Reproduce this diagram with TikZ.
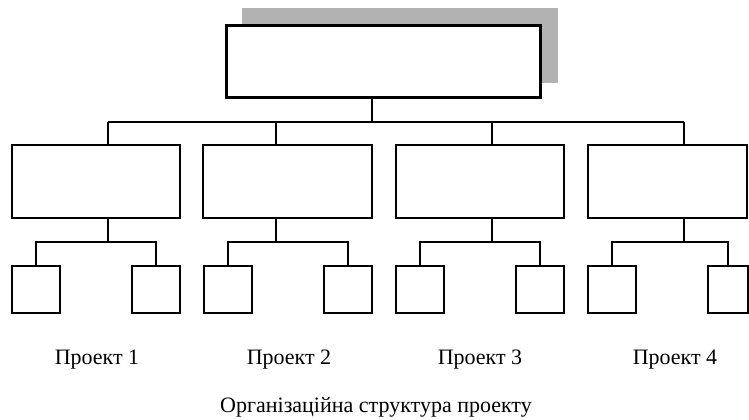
\documentclass[tikz,border=0pt]{standalone}
\usepackage{fontspec}
\setmainfont{Liberation Serif}
\tikzset{
  topbox/.style={draw, line width=2.25pt, fill=white, inner sep=0pt, minimum width=235.5pt, minimum height=54pt},
  midbox/.style={draw, line width=1pt, inner sep=0pt, minimum height=54.75pt},
  subbox/.style={draw, line width=1pt, inner sep=0pt, minimum width=36pt, minimum height=35.25pt},
  wire/.style={line width=1pt},
  projtext/.style={inner sep=0pt, font=\fontsize{16.5}{19}\selectfont}
}
\begin{document}
\begin{tikzpicture}[x=0.75pt, y=-0.75pt]
            \useasboundingbox (0,0) rectangle (749,419);
            \fill [black!30] (242,8) rectangle (558,83);
            \node [topbox] (top) at (383,61) {};
            \foreach \n/\x/\w in {1/96/126pt, 2/287.5/126.75pt, 3/480/126pt, 4/667.5/119.25pt}
                \node [midbox, minimum width=\w] (m\n) at (\x,181.5) {};
            \foreach \n/\x/\y/\w in {1/36/156/36pt, 2/228/348/36pt, 3/420/540/36pt, 4/612/728/30pt} {
                \node [subbox] (a\n) at (\x,289.5) {};
                \node [subbox, minimum width=\w] (b\n) at (\y,289.5) {};
            }
            \coordinate (j0) at (372,122);
            \draw [wire] (top.south -| j0) -- (j0);
            \foreach \n/\x in {1/108, 2/276, 3/492, 4/684} {
                \coordinate (j\n) at (\x,122);
                \coordinate (k\n) at (\x,242);
                \draw [wire] (j\n) -- (j\n |- m\n.north);
                \draw [wire] (m\n.south -| k\n) -- (k\n);
                \draw [wire] (a\n.north) |- (k\n) -| (b\n.north);
            }
            \draw [wire] (j1) -- (j4);
            \foreach \n/\x in {1/97, 2/289, 3/480, 4/675}
                \node [projtext] (t\n) at (\x,360) {Проект \n};
            \node [projtext] (title) at (376,407) {Організаційна структура проекту};
        \end{tikzpicture}
\end{document}
